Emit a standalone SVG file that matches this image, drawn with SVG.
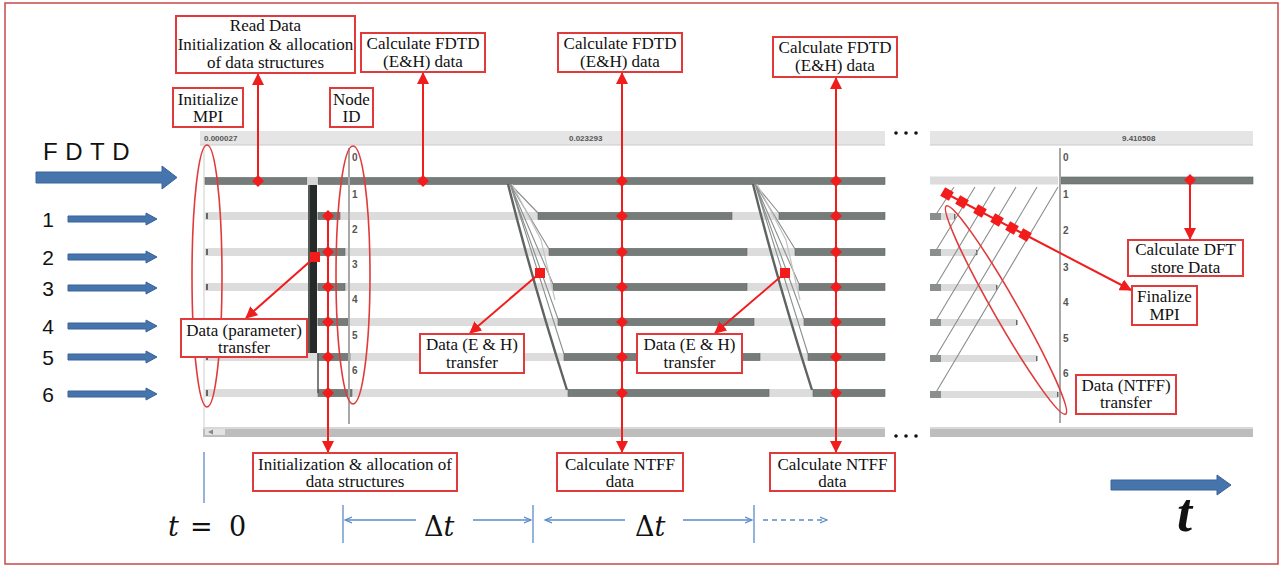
<svg xmlns="http://www.w3.org/2000/svg" width="1284" height="568" viewBox="0 0 1284 568">
<defs>
<style>
.box{fill:#fff;stroke:#e23a3a;stroke-width:2}
.lbl{font-family:"Liberation Serif","Times New Roman",serif;font-size:17px;fill:#111;text-anchor:middle}
.red{stroke:#f01d1d;stroke-width:2;fill:none}
.dk{fill:#767c79;stroke:#5f6461;stroke-width:0.6}
.lt{fill:#dcdcdc}
.ell{fill:none;stroke:#e03a3a;stroke-width:1.6}
.blue{fill:#4674ad;stroke:#3a6299;stroke-width:1}
.num{font-family:"Liberation Sans",Arial,sans-serif;font-size:21px;fill:#111;text-anchor:middle}
.nid{font-family:"Liberation Sans",Arial,sans-serif;font-size:10px;font-weight:bold;fill:#555}
.hdr{font-family:"Liberation Sans",Arial,sans-serif;font-size:8px;font-weight:bold;fill:#555}
.dim{stroke:#5b8bc8;stroke-width:1.3;fill:none}
.diag{stroke:#8a8f8c;stroke-width:1.1;fill:none}
.math{font-family:"DejaVu Serif","Liberation Serif",serif;font-size:27px;fill:#111}
.tick{fill:#666}
</style>
<marker id="ah" viewBox="0 0 12 12" refX="11" refY="6" markerWidth="12" markerHeight="12" orient="auto-start-reverse" markerUnits="userSpaceOnUse">
<path d="M0,0L12,6L0,12Z" fill="#f01d1d"/>
</marker>
<marker id="oh" viewBox="0 0 8 8" refX="7" refY="4" markerWidth="8" markerHeight="8" orient="auto-start-reverse" markerUnits="userSpaceOnUse">
<path d="M0,1L7,4L0,7" fill="none" stroke="#5b8bc8" stroke-width="1.2"/>
</marker>
<path id="dia" d="M0,-6L6,0L0,6L-6,0Z" fill="#f21c1c"/>
<rect id="sq" x="-5" y="-5" width="10" height="10" fill="#f21c1c"/>
</defs>

<rect x="5" y="3" width="1273" height="561" fill="#fff" stroke="#c84848" stroke-width="1.5"/>

<!-- Left/middle timeline chart -->
<g id="chart-main">
<rect x="200" y="131" width="685" height="14" fill="#e5e5e5"/>
<line x1="200" y1="145" x2="885" y2="145" stroke="#cacaca" stroke-width="1"/>
<text x="204" y="141" class="hdr">0.000027</text>
<text x="569" y="141" class="hdr">0.023293</text>
<line x1="204" y1="146" x2="204" y2="427" stroke="#dedede" stroke-width="1.5"/>
<!-- row 0 -->
<rect x="205" y="177.5" width="102" height="7" class="dk"/>
<rect x="308" y="177" width="9" height="8" fill="#d6d6d6"/>
<rect x="318" y="177.5" width="567" height="7" class="dk"/>
<!-- rows 1-6 light -->
<rect x="205" y="212" width="680" height="8" class="lt"/>
<rect x="205" y="248" width="680" height="8" class="lt"/>
<rect x="205" y="283" width="680" height="8" class="lt"/>
<rect x="205" y="318" width="680" height="8" class="lt"/>
<rect x="205" y="353" width="680" height="8" class="lt"/>
<rect x="205" y="389" width="680" height="8" class="lt"/>
<rect x="206" y="213" width="2" height="6" class="tick"/>
<rect x="206" y="249" width="2" height="6" class="tick"/>
<rect x="206" y="284" width="2" height="6" class="tick"/>
<rect x="206" y="319" width="2" height="6" class="tick"/>
<rect x="206" y="354" width="2" height="6" class="tick"/>
<rect x="206" y="390" width="2" height="6" class="tick"/>
<!-- short dark -->
<rect x="318" y="212.5" width="22" height="7" class="dk"/>
<rect x="318" y="248.5" width="27" height="7" class="dk"/>
<rect x="318" y="283.5" width="27" height="7" class="dk"/>
<rect x="318" y="318.5" width="30" height="7" class="dk"/>
<rect x="318" y="353.5" width="32" height="7" class="dk"/>
<rect x="318" y="389.5" width="34" height="7" class="dk"/>
<!-- black initial transfer bar -->
<rect x="308" y="185" width="9" height="168" fill="#262a28"/>
<rect x="308" y="185" width="2" height="168" fill="#555a57"/>
<line x1="318" y1="353" x2="318" y2="393" stroke="#555" stroke-width="1.5"/>
<!-- middle dark bars -->
<rect x="538" y="212.5" width="194" height="7" class="dk"/>
<rect x="549" y="248.5" width="198" height="7" class="dk"/>
<rect x="553" y="283.5" width="194" height="7" class="dk"/>
<rect x="558" y="318.5" width="196" height="7" class="dk"/>
<rect x="564" y="353.5" width="196" height="7" class="dk"/>
<rect x="568" y="389.5" width="201" height="7" class="dk"/>
<!-- right dark bars -->
<rect x="779" y="212.5" width="106" height="7" class="dk"/>
<rect x="795" y="248.5" width="90" height="7" class="dk"/>
<rect x="799" y="283.5" width="86" height="7" class="dk"/>
<rect x="804" y="318.5" width="81" height="7" class="dk"/>
<rect x="808" y="353.5" width="77" height="7" class="dk"/>
<rect x="813" y="389.5" width="72" height="7" class="dk"/>
<!-- diagonal transfers 1 -->
<path d="M510,184L538,213M510,184L549,249M510,184L553,284M510,184L558,319M510,184L564,354" class="diag"/>
<path d="M512,184L541,240L555,300" stroke="#c4c4c4" stroke-width="1.2" fill="none"/>
<path d="M508,184Q532,280 567,390" stroke="#5f6462" stroke-width="2.4" fill="none"/>
<!-- diagonal transfers 2 -->
<path d="M755,184L779,213M755,184L795,249M755,184L799,284M755,184L804,319M755,184L808,354" class="diag"/>
<path d="M757,184L786,240L800,300" stroke="#c4c4c4" stroke-width="1.2" fill="none"/>
<path d="M753,184Q777,280 812,390" stroke="#5f6462" stroke-width="2.4" fill="none"/>
<!-- node id axis -->
<line x1="349" y1="148" x2="349" y2="424" stroke="#a8a8a8" stroke-width="2"/>
<text x="352" y="161" class="nid">0</text>
<text x="352" y="198" class="nid">1</text>
<text x="352" y="233" class="nid">2</text>
<text x="352" y="268" class="nid">3</text>
<text x="352" y="303" class="nid">4</text>
<text x="352" y="339" class="nid">5</text>
<text x="352" y="374" class="nid">6</text>
<!-- bottom scrollbar -->
<rect x="203" y="427" width="682" height="10" fill="#bdbdbd"/>
<rect x="203" y="427" width="682" height="2" fill="#d8d8d8"/>
<rect x="205" y="429" width="20" height="6" fill="#e2e2e2"/>
<path d="M208,432L213,429.5L213,434.5Z" fill="#888"/>
</g>

<!-- Right (final) timeline panel -->
<g id="chart-final">
<rect x="930" y="131" width="323" height="14" fill="#e5e5e5"/>
<line x1="930" y1="145" x2="1253" y2="145" stroke="#cacaca" stroke-width="1"/>
<text x="1122" y="141" class="hdr">9.410508</text>
<rect x="930" y="176.5" width="128" height="8" class="lt"/>
<rect x="1061" y="177" width="192" height="7" class="dk"/>
<rect x="941" y="213" width="14" height="7" class="lt"/>
<rect x="941" y="249" width="36" height="7" class="lt"/>
<rect x="941" y="284" width="56" height="7" class="lt"/>
<rect x="941" y="319" width="76" height="7" class="lt"/>
<rect x="941" y="355" width="96" height="7" class="lt"/>
<rect x="941" y="391" width="117" height="7" class="lt"/>
<rect x="930" y="213" width="11" height="7" fill="#8a8f8c"/>
<rect x="930" y="249" width="11" height="7" fill="#8a8f8c"/>
<rect x="930" y="284" width="11" height="7" fill="#8a8f8c"/>
<rect x="930" y="319" width="11" height="7" fill="#8a8f8c"/>
<rect x="930" y="355" width="11" height="7" fill="#8a8f8c"/>
<rect x="930" y="391" width="11" height="7" fill="#8a8f8c"/>
<rect x="954" y="214" width="1.5" height="5" class="tick"/>
<rect x="976" y="250" width="1.5" height="5" class="tick"/>
<rect x="996" y="285" width="1.5" height="5" class="tick"/>
<rect x="1016" y="320" width="1.5" height="5" class="tick"/>
<rect x="1036" y="356" width="1.5" height="5" class="tick"/>
<rect x="1057" y="392" width="1.5" height="5" class="tick"/>
<path d="M935,216L954,187M935,252L975,187M935,287L995,187M935,322L1016,187M935,358L1037,187M935,394L1058,187" class="diag"/>
<line x1="1060" y1="148" x2="1060" y2="423" stroke="#a8a8a8" stroke-width="2"/>
<text x="1063" y="161" class="nid">0</text>
<text x="1063" y="198" class="nid">1</text>
<text x="1063" y="234" class="nid">2</text>
<text x="1063" y="271" class="nid">3</text>
<text x="1063" y="306" class="nid">4</text>
<text x="1063" y="342" class="nid">5</text>
<text x="1063" y="377" class="nid">6</text>
<rect x="930" y="427" width="323" height="10" fill="#bdbdbd"/>
<rect x="930" y="427" width="323" height="2" fill="#d8d8d8"/>
</g>

<g id="ellipsis">
<circle cx="896" cy="133" r="1.8" fill="#111"/>
<circle cx="906" cy="133" r="1.8" fill="#111"/>
<circle cx="916" cy="133" r="1.8" fill="#111"/>
<circle cx="896" cy="436" r="1.8" fill="#111"/>
<circle cx="906" cy="436" r="1.8" fill="#111"/>
<circle cx="916" cy="436" r="1.8" fill="#111"/>
</g>

<!-- highlight ellipses -->
<g id="ellipse-init-mpi"><ellipse cx="207" cy="276" rx="15" ry="131" class="ell"/></g>
<g id="ellipse-node-id"><ellipse cx="353" cy="275" rx="17" ry="129" class="ell"/></g>
<g id="ellipse-ntff"><ellipse cx="1006" cy="310" rx="120" ry="12" transform="rotate(60.2 1006 310)" class="ell"/></g>

<!-- Input arrows -->
<g id="fdtd-input">
<text x="43" y="160" font-family="Liberation Sans,Arial,sans-serif" font-size="24" letter-spacing="7.5" fill="#111">FDTD</text>
<path d="M36,172L162,172L162,166L177,177.5L162,189L162,183L36,183Z" class="blue"/>
</g>
<g id="input-1"><text x="48" y="227" class="num">1</text><path d="M68,216L146,216L146,213L157,219L146,225L146,222L68,222Z" class="blue"/></g>
<g id="input-2"><text x="48" y="265" class="num">2</text><path d="M68,254L146,254L146,251L157,257L146,263L146,260L68,260Z" class="blue"/></g>
<g id="input-3"><text x="48" y="296" class="num">3</text><path d="M68,285L146,285L146,282L157,288L146,294L146,291L68,291Z" class="blue"/></g>
<g id="input-4"><text x="48" y="334" class="num">4</text><path d="M68,323L146,323L146,320L157,326L146,332L146,329L68,329Z" class="blue"/></g>
<g id="input-5"><text x="48" y="365" class="num">5</text><path d="M68,354L146,354L146,351L157,357L146,363L146,360L68,360Z" class="blue"/></g>
<g id="input-6"><text x="48" y="402" class="num">6</text><path d="M68,391L146,391L146,388L157,394L146,400L146,397L68,397Z" class="blue"/></g>

<!-- Connectors -->
<g id="connectors">
<line x1="258" y1="181" x2="258" y2="74" class="red" marker-end="url(#ah)"/>
<line x1="423" y1="181" x2="423" y2="73" class="red" marker-end="url(#ah)"/>
<line x1="622" y1="452" x2="622" y2="73" class="red" marker-start="url(#ah)" marker-end="url(#ah)"/>
<line x1="836" y1="452" x2="836" y2="78" class="red" marker-start="url(#ah)" marker-end="url(#ah)"/>
<line x1="328" y1="216" x2="328" y2="452" class="red" marker-end="url(#ah)"/>
<line x1="315" y1="257" x2="246" y2="318" class="red" marker-end="url(#ah)"/>
<line x1="540" y1="273" x2="470" y2="333" class="red" marker-end="url(#ah)"/>
<line x1="785" y1="273" x2="715" y2="333" class="red" marker-end="url(#ah)"/>
<line x1="1190" y1="180" x2="1190" y2="239" class="red" marker-end="url(#ah)"/>
<line x1="947" y1="194" x2="1131" y2="290" class="red" marker-end="url(#ah)"/>
<use href="#dia" x="258" y="181"/>
<use href="#dia" x="423" y="181"/>
<use href="#dia" x="622" y="181"/><use href="#dia" x="622" y="216"/><use href="#dia" x="622" y="252"/><use href="#dia" x="622" y="287"/><use href="#dia" x="622" y="322"/><use href="#dia" x="622" y="357"/><use href="#dia" x="622" y="393"/>
<use href="#dia" x="836" y="181"/><use href="#dia" x="836" y="216"/><use href="#dia" x="836" y="252"/><use href="#dia" x="836" y="287"/><use href="#dia" x="836" y="322"/><use href="#dia" x="836" y="357"/><use href="#dia" x="836" y="393"/>
<use href="#dia" x="328" y="216"/><use href="#dia" x="328" y="252"/><use href="#dia" x="328" y="287"/><use href="#dia" x="328" y="322"/><use href="#dia" x="328" y="357"/><use href="#dia" x="328" y="393"/>
<use href="#dia" x="1190" y="180"/>
<use href="#sq" x="315" y="257"/>
<use href="#sq" x="540" y="273"/>
<use href="#sq" x="785" y="273"/>
<g transform="rotate(30 947 194)"><use href="#sq" x="947" y="194"/></g>
<g transform="rotate(30 962 202)"><use href="#sq" x="962" y="202"/></g>
<g transform="rotate(30 980 211)"><use href="#sq" x="980" y="211"/></g>
<g transform="rotate(30 997 220)"><use href="#sq" x="997" y="220"/></g>
<g transform="rotate(30 1012 228)"><use href="#sq" x="1012" y="228"/></g>
<g transform="rotate(30 1025 235)"><use href="#sq" x="1025" y="235"/></g>
</g>

<!-- Label nodes -->
<g id="read-data"><rect x="176" y="16" width="179" height="57" class="box"/>
<text x="265.5" y="31" class="lbl">Read Data</text><text x="265.5" y="50" class="lbl">Initialization &amp; allocation</text><text x="265.5" y="68" class="lbl">of data structures</text></g>
<g id="calc-fdtd-1"><rect x="361" y="33" width="124" height="39" class="box"/>
<text x="423" y="49" class="lbl">Calculate FDTD</text><text x="423" y="67" class="lbl">(E&amp;H) data</text></g>
<g id="calc-fdtd-2"><rect x="558" y="33" width="124" height="39" class="box"/>
<text x="620" y="49" class="lbl">Calculate FDTD</text><text x="620" y="67" class="lbl">(E&amp;H) data</text></g>
<g id="calc-fdtd-3"><rect x="773" y="37" width="124" height="40" class="box"/>
<text x="835" y="53" class="lbl">Calculate FDTD</text><text x="835" y="71" class="lbl">(E&amp;H) data</text></g>
<g id="init-mpi"><rect x="173" y="88" width="70" height="39" class="box"/>
<text x="208" y="105" class="lbl">Initialize</text><text x="208" y="122" class="lbl">MPI</text></g>
<g id="node-id"><rect x="330" y="88" width="43" height="39" class="box"/>
<text x="351.5" y="105" class="lbl">Node</text><text x="351.5" y="122" class="lbl">ID</text></g>
<g id="init-alloc"><rect x="253" y="453" width="204" height="38" class="box"/>
<text x="355" y="470" class="lbl">Initialization &amp; allocation of</text><text x="355" y="487" class="lbl">data structures</text></g>
<g id="calc-ntff-1"><rect x="557" y="453" width="126" height="38" class="box"/>
<text x="620" y="470" class="lbl">Calculate NTFF</text><text x="620" y="487" class="lbl">data</text></g>
<g id="calc-ntff-2"><rect x="770" y="453" width="125" height="38" class="box"/>
<text x="832.5" y="470" class="lbl">Calculate NTFF</text><text x="832.5" y="487" class="lbl">data</text></g>
<g id="param-transfer"><rect x="181" y="319" width="126" height="38" class="box"/>
<text x="244" y="336" class="lbl">Data (parameter)</text><text x="244" y="353" class="lbl">transfer</text></g>
<g id="eh-transfer-1"><rect x="420" y="334" width="104" height="39" class="box"/>
<text x="472" y="350" class="lbl">Data (E &amp; H)</text><text x="472" y="368" class="lbl">transfer</text></g>
<g id="eh-transfer-2"><rect x="637" y="334" width="105" height="39" class="box"/>
<text x="689.5" y="350" class="lbl">Data (E &amp; H)</text><text x="689.5" y="368" class="lbl">transfer</text></g>
<g id="calc-dft"><rect x="1128" y="240" width="115" height="36" class="box"/>
<text x="1185.5" y="255" class="lbl">Calculate DFT</text><text x="1185.5" y="273" class="lbl">store Data</text></g>
<g id="finalize-mpi"><rect x="1132" y="286" width="65" height="39" class="box"/>
<text x="1164.5" y="302" class="lbl">Finalize</text><text x="1164.5" y="320" class="lbl">MPI</text></g>
<g id="ntff-transfer"><rect x="1076" y="375" width="100" height="39" class="box"/>
<text x="1126" y="391" class="lbl">Data (NTFF)</text><text x="1126" y="408" class="lbl">transfer</text></g>

<!-- Time axis -->
<g id="time-axis">
<line x1="204" y1="452" x2="204" y2="503" class="dim"/>
<text x="168" y="536" class="math"><tspan font-style="italic">t</tspan></text>
<text x="190" y="536" class="math">=</text>
<text x="229" y="536" class="math">0</text>
<line x1="343" y1="505" x2="343" y2="543" class="dim"/>
<line x1="533" y1="505" x2="533" y2="543" class="dim"/>
<line x1="754" y1="505" x2="754" y2="543" class="dim"/>
<line x1="416" y1="520" x2="345" y2="520" class="dim" marker-end="url(#oh)"/>
<line x1="473" y1="520" x2="531" y2="520" class="dim" marker-end="url(#oh)"/>
<text x="424" y="536" class="math">Δ<tspan font-style="italic">t</tspan></text>
<line x1="625" y1="520" x2="545" y2="520" class="dim" marker-end="url(#oh)"/>
<line x1="683" y1="520" x2="752" y2="520" class="dim" marker-end="url(#oh)"/>
<text x="635" y="536" class="math">Δ<tspan font-style="italic">t</tspan></text>
<line x1="763" y1="520" x2="827" y2="520" class="dim" stroke-dasharray="5,4" marker-end="url(#oh)"/>
<path d="M1111,480L1217,480L1217,475L1231,485L1217,495L1217,490L1111,490Z" class="blue"/>
<text x="1177" y="531" font-family="Liberation Serif,Times New Roman,serif" font-size="54" font-style="italic" font-weight="bold" fill="#111">t</text>
</g>
</svg>
